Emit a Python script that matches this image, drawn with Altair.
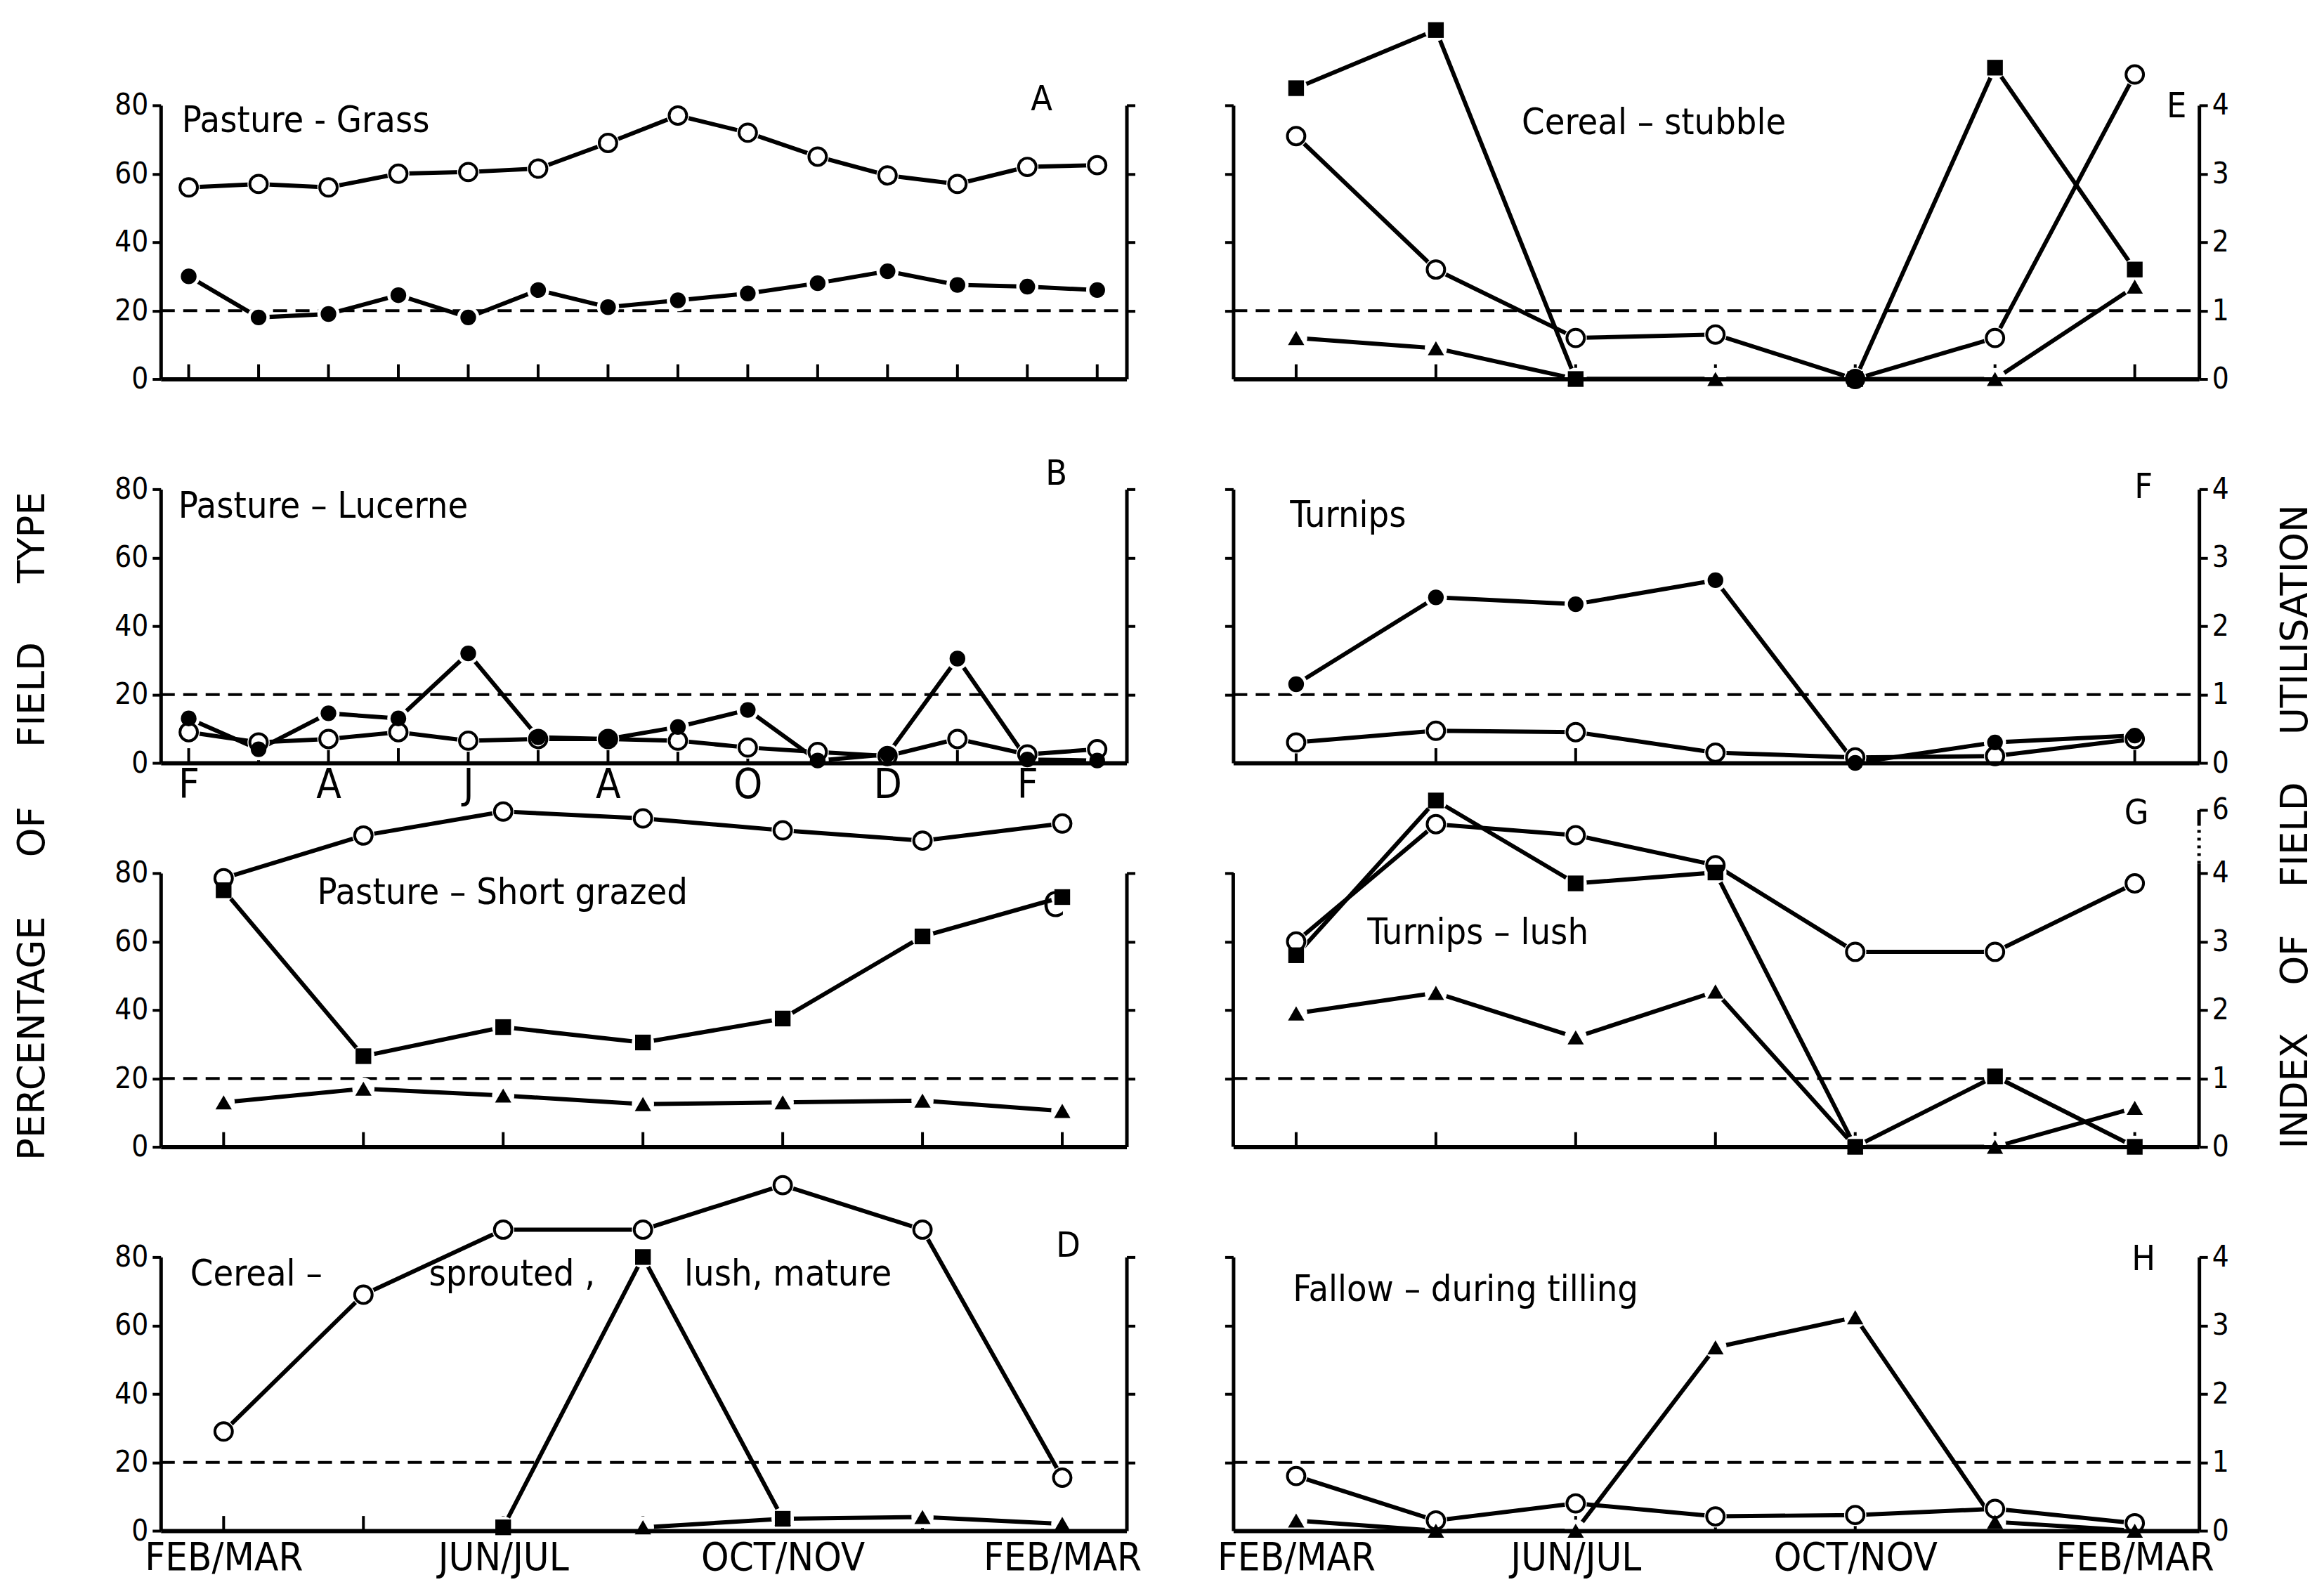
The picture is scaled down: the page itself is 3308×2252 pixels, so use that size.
import altair as alt
import pandas as pd

# ---------------- data ----------------
MONTHS = list(range(14))                               # monthly samples Feb .. Mar
BIMONTHS = [0.5, 2.5, 4.5, 6.5, 8.5, 10.5, 12.5]       # Feb/Mar .. Feb/Mar

A_open   = [56, 57, 56, 60, 60.5, 61.5, 69, 77, 72, 65, 59.5, 57, 62, 62.5]
A_filled = [30, 18, 19, 24.5, 18, 26, 21, 23, 25, 28, 31.5, 27.5, 27, 26]

B_open   = [9, 6, 7, 9, 6.5, 7, 7, 6.5, 4.5, 3.2, 2, 7, 2.5, 4]
B_filled = [13, 4, 14.5, 13, 32, 7.5, 7, 10.5, 15.5, 0.7, 2.5, 30.5, 1, 0.7]

C_open   = [78.5, 91, 98, 96, 92.5, 89.5, 94.5]
C_square = [75, 26.5, 35, 30.5, 37.5, 61.5, 73]
C_tri    = [13, 17, 15, 12.5, 13, 13.5, 10.5]

D_open   = [29, 69, 88, 88, 101, 88, 15.5]
D_square = [None, None, 1, 80, 3.5, None, None]
D_tri    = [None, None, None, 1, 3.5, 4, 2]

E_open   = [3.55, 1.6, 0.6, 0.65, 0, 0.6, 4.45]
E_square = [4.25, 5.1, 0, None, 0, 4.55, 1.6]
E_tri    = [0.6, 0.45, 0, 0, 0, 0, 1.35]

F_filled = [1.15, 2.42, 2.32, 2.67, 0, 0.3, 0.4]
F_open   = [0.3, 0.47, 0.45, 0.15, 0.08, 0.1, 0.35]

G_open   = [3.0, 5.55, 5.2, 4.25, 2.85, 2.85, 3.85]
G_square = [2.8, 6.3, 3.85, 4.02, 0, 1.03, 0]
G_tri    = [1.95, 2.25, 1.6, 2.27, 0, 0, 0.57]

H_open   = [0.8, 0.15, 0.4, 0.21, 0.23, 0.32, 0.11]
H_tri    = [0.15, 0, 0, 2.68, 3.12, 0.13, 0]

MONTH_TICKS  = [0, 2, 4, 6, 8, 10, 12]
MONTH_LABELS = ["F", "A", "J", "A", "O", "D", "F"]
SEASON_TICKS  = [0.5, 4.5, 8.5, 12.5]
SEASON_LABELS = ["FEB/MAR", "JUN/JUL", "OCT/NOV", "FEB/MAR"]

PCT_TICKS = [0, 20, 40, 60, 80]
IDX_TICKS = [0, 1, 2, 3, 4]
G_TICKS   = [0, 1, 2, 3, 4, 6]

LEFT_TITLE  = ("\u00a0" * 5).join(["PERCENTAGE", "OF", "FIELD", "TYPE"])
RIGHT_TITLE = ("\u00a0" * 4).join(["INDEX", "OF", "FIELD", "UTILISATION"])

# ---------------- styling ----------------
FONT = "Liberation Sans Narrow, DejaVu Sans Condensed, Liberation Sans, Arial, sans-serif"
SIDE_FONT = "DejaVu Sans, Verdana, sans-serif"
W, H = 1376, 390
XSCALE = alt.Scale(domain=[-0.4, 13.42], nice=False, zero=False)


def label_expr(vals, labs):
    expr = "''"
    for v, l in reversed(list(zip(vals, labs))):
        expr = f"datum.value == {v} ? '{l}' : ({expr})"
    return expr


def ycommon():
    return dict(grid=False, title=None, domainColor="black", tickColor="black",
                labelColor="black", labelFont=FONT, labelFontSize=42, tickWidth=4,
                tickSize=12, domainWidth=5, labelPadding=6, zindex=1)


def x_axis(vals=None, labs=None, size=54, pad=8):
    common = dict(orient="bottom", domain=True, domainWidth=6, domainColor="black",
                  ticks=False, grid=False, title=None, zindex=1)
    if vals is None:
        return alt.Axis(labels=False, **common)
    return alt.Axis(labels=True, values=vals, labelExpr=label_expr(vals, labs),
                    labelFontSize=size, labelPadding=pad, labelFlush=False,
                    labelOverlap=False, labelLimit=1000, labelFont=FONT,
                    labelColor="black", **common)


def text_layer(txt, dx, dy, size=52, align="left", font=FONT, angle=0):
    return alt.Chart(pd.DataFrame({"t": [txt]})).mark_text(
        align=align, baseline="middle", font=font, fontSize=size, color="black", angle=angle
    ).encode(text="t:N", x=alt.value(dx), y=alt.value(dy))


def make_panel(series, kind, tick_x, titles, letter, letter_xy, xaxis, extra=()):
    rows = []
    for sid, (style, xs, vals) in enumerate(series):
        for x, v in zip(xs, vals):
            if v is not None:
                rows.append({"x": x, "v": v, "style": style, "sid": sid})
    df = pd.DataFrame(rows)

    gbreak = kind == "g"
    if kind == "pct":
        ref, tick_len = 20, 4.3
        yscale = alt.Scale(domain=[0, 80], nice=False, zero=False)
        ax1 = alt.Axis(orient="left", values=PCT_TICKS, labels=True, **ycommon())
        ax2 = alt.Axis(orient="right", values=PCT_TICKS[1:], labels=False, **ycommon())
    elif kind == "idx":
        ref, tick_len = 1, 0.215
        yscale = alt.Scale(domain=[0, 4], nice=False, zero=False)
        ax1 = alt.Axis(orient="left", values=IDX_TICKS[1:], labels=False, **ycommon())
        ax2 = alt.Axis(orient="right", values=IDX_TICKS, labels=True, **ycommon())
    else:
        ref, tick_len = 1, 0.215
        yscale = alt.Scale(domain=[0, 4, 6], range=[H, 0, -90], nice=False, zero=False)
        c = ycommon()
        c["domain"] = False
        ax1 = alt.Axis(orient="left", values=IDX_TICKS[1:], labels=False, **c)
        ax2 = alt.Axis(orient="right", values=G_TICKS, labels=True, **c)

    xe = alt.X("x:Q", scale=XSCALE, axis=xaxis)
    ye = alt.Y("v:Q", scale=yscale, axis=None)

    base = alt.Chart(df)
    layers = [
        base.mark_line(color="black", strokeWidth=6).encode(
            x=xe, y=alt.Y("v:Q", scale=yscale, axis=ax1), detail="sid:N"),
        alt.Chart(pd.DataFrame({"r": [ref]})).mark_rule(
            color="black", strokeWidth=4, strokeDash=[20, 12]
        ).encode(y=alt.Y("r:Q", scale=yscale, axis=ax2), x=alt.value(0), x2=alt.value(W)),
        alt.Chart(pd.DataFrame({"x": tick_x, "y0": [0] * len(tick_x),
                                "y1": [tick_len] * len(tick_x)})).mark_rule(
            color="black", strokeWidth=4
        ).encode(x=xe, y=alt.Y("y0:Q", scale=yscale, axis=None), y2="y1:Q"),
    ]
    if gbreak:
        seg = pd.DataFrame({"a": [0, 4.3, 5.5, 0], "b": [4.3, 5.5, 6.0, 4.0],
                            "side": ["r", "r", "r", "l"], "dash": ["s", "d", "s", "s"]})
        for side, xv in (("r", W), ("l", 0)):
            for dash, pat in (("s", [1, 0]), ("d", [4, 7])):
                sub = seg[(seg.side == side) & (seg.dash == dash)]
                if len(sub):
                    layers.append(alt.Chart(sub).mark_rule(
                        color="black", strokeWidth=5, strokeDash=pat
                    ).encode(x=alt.value(xv), y=alt.Y("a:Q", scale=yscale, axis=None), y2="b:Q"))

    layers.append(base.mark_circle(color="white", opacity=1, size=1000).encode(x=xe, y=ye))
    styles = set(df["style"])
    if "open" in styles:
        layers.append(base.transform_filter(alt.datum.style == "open").mark_point(
            shape="circle", filled=True, fill="white", stroke="black", strokeWidth=4,
            size=620, opacity=1).encode(x=xe, y=ye))
    if "filled" in styles:
        layers.append(base.transform_filter(alt.datum.style == "filled").mark_circle(
            color="black", size=500, opacity=1).encode(x=xe, y=ye))
    if "square" in styles:
        layers.append(base.transform_filter(alt.datum.style == "square").mark_square(
            color="black", size=500, opacity=1).encode(x=xe, y=ye))
    if "tri" in styles:
        layers.append(base.transform_filter(alt.datum.style == "tri").mark_point(
            shape="triangle-up", filled=True, color="black", size=540, opacity=1
        ).encode(x=xe, y=ye))

    for txt, dx, dy in titles:
        layers.append(text_layer(txt, dx, dy))
    layers.append(text_layer(letter, letter_xy[0], letter_xy[1], size=50, align="center"))
    layers.extend(extra)

    return alt.layer(*layers).resolve_axis(y="independent").properties(width=W, height=H)


pA = make_panel([("open", MONTHS, A_open), ("filled", MONTHS, A_filled)], "pct", MONTHS,
                [("Pasture - Grass", 30, 22)], "A", (1255, -8), x_axis())
pB = make_panel([("open", MONTHS, B_open), ("filled", MONTHS, B_filled)], "pct", MONTHS,
                [("Pasture – Lucerne", 25, 25)], "B", (1276, -21),
                x_axis(MONTH_TICKS, MONTH_LABELS, size=58, pad=4),
                extra=[text_layer(LEFT_TITLE, -182, 480, size=53, align="center",
                                  font=SIDE_FONT, angle=270)])
pC = make_panel([("open", BIMONTHS, C_open), ("square", BIMONTHS, C_square),
                 ("tri", BIMONTHS, C_tri)], "pct", BIMONTHS,
                [("Pasture – Short grazed", 223, 28)], "C", (1272, 47), x_axis())
pD = make_panel([("open", BIMONTHS, D_open), ("square", BIMONTHS, D_square),
                 ("tri", BIMONTHS, D_tri)], "pct", BIMONTHS,
                [("Cereal –", 42, 25), ("sprouted ,", 382, 25), ("lush, mature", 746, 25)],
                "D", (1293, -15), x_axis(SEASON_TICKS, SEASON_LABELS, size=56, pad=12))
pE = make_panel([("open", BIMONTHS, E_open), ("square", BIMONTHS, E_square),
                 ("tri", BIMONTHS, E_tri)], "idx", BIMONTHS,
                [("Cereal – stubble", 411, 25)], "E", (1344, 2), x_axis())
pF = make_panel([("open", BIMONTHS, F_open), ("filled", BIMONTHS, F_filled)], "idx", BIMONTHS,
                [("Turnips", 81, 38)], "F", (1297, -2), x_axis(),
                extra=[text_layer(RIGHT_TITLE, 1514, 481, size=53, align="center",
                                  font=SIDE_FONT, angle=270)])
pG = make_panel([("open", BIMONTHS, G_open), ("square", BIMONTHS, G_square),
                 ("tri", BIMONTHS, G_tri)], "g", BIMONTHS,
                [("Turnips – lush", 191, 85)], "G", (1287, -85), x_axis())
pH = make_panel([("open", BIMONTHS, H_open), ("tri", BIMONTHS, H_tri)], "idx", BIMONTHS,
                [("Fallow – during tilling", 85, 47)], "H", (1297, 4),
                x_axis(SEASON_TICKS, SEASON_LABELS, size=56, pad=12))

chart = alt.concat(pA, pE, pB, pF, pC, pG, pD, pH, columns=2,
                   spacing={"row": 157, "column": 152}, bounds="flush").properties(
    padding={"left": 12, "top": 17, "right": 5, "bottom": 5}, background="white"
).configure_view(stroke=None)

chart.save("out.html", embed_options={"renderer": "svg", "actions": False})
